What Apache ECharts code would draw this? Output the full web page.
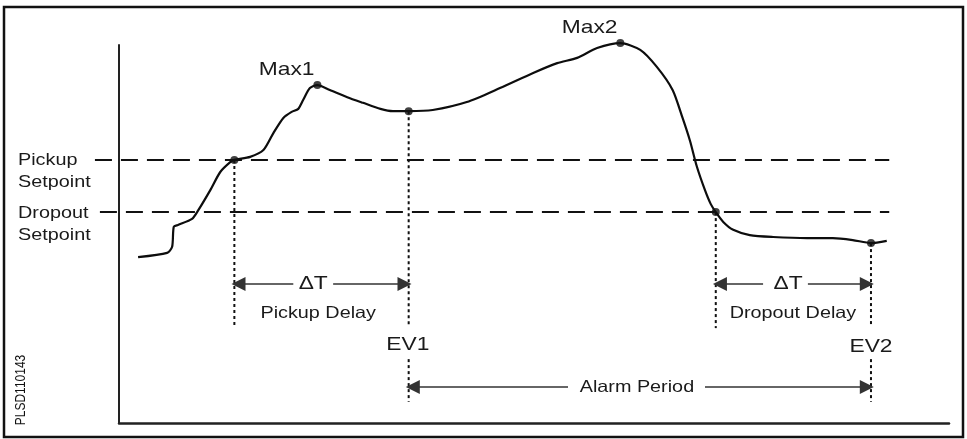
<!DOCTYPE html>
<html><head><meta charset="utf-8">
<script src="https://cdn.jsdelivr.net/npm/echarts@6/dist/echarts.min.js"></script>
<style>html,body{margin:0;padding:0;background:#fff}#c{width:967px;height:439px}</style>
</head><body><div id="c"></div>
<script>
// Signal trace (time units 0-100, value units 0-100)
const signalTime  = [2.3, 5.8, 6.4, 6.6, 7.1, 8.8, 9.5, 11.0, 12.2, 13.4, 13.9, 15.8, 17.4, 18.6, 19.8, 20.8, 21.6, 22.2, 23.0, 23.9, 25.4, 27.5, 29.4, 31.5, 33.0, 34.9, 37.8, 41.9, 45.9, 49.9, 52.8, 55.2, 57.6, 60.4, 62.8, 64.8, 66.7, 67.9, 68.8, 69.6, 70.6, 71.3, 71.9, 72.8, 74.0, 76.0, 78.8, 82.9, 86.0, 88.4, 90.6, 92.5];
const signalValue = [43.9, 45.0, 46.6, 51.9, 52.4, 54.0, 56.1, 61.6, 66.4, 69.0, 69.6, 70.4, 72.2, 76.7, 80.7, 82.3, 83.1, 85.5, 88.6, 89.4, 88.1, 86.2, 84.7, 83.1, 82.5, 82.5, 82.8, 84.9, 88.6, 92.6, 95.2, 96.6, 99.2, 100.5, 98.7, 94.2, 88.1, 80.7, 74.6, 68.0, 61.6, 57.9, 55.8, 53.2, 51.1, 49.7, 49.2, 48.9, 48.9, 48.4, 47.6, 48.2];

const setpointNames  = ['Pickup', 'Dropout'];
const setpointValues = [69.6, 55.8];
const setpointStart  = [-2.9, -2.3];
const setpointEnd    = 92.8;

const markerTime  = [13.9, 23.9, 34.9, 60.4, 71.9, 90.6];
const markerValue = [69.6, 89.4, 82.5, 100.5, 55.8, 47.6];

const eventTime     = [13.9, 34.9, 71.9, 90.6];
const eventTop      = [69.6, 82.5, 55.8, 47.6];
const eventBottom   = [25.1, 25.7, 25.1, 25.7];
const alarmEvents   = [34.9, 90.6];
const alarmLineTop  = 16.9;
const alarmLineBot  = 5.6;

// arrows: [fromT, toT, value]
const arrowFrom  = [21.0, 25.8, 77.6, 83.0, 54.1, 70.6];
const arrowTo    = [14.4, 34.4, 72.4, 90.1, 35.4, 90.1];
const arrowValue = [36.8, 36.8, 36.8, 36.8, 9.5, 9.5];

const labelTexts = ['Max1', 'Max2', '\u0394T', '\u0394T', 'Pickup Delay', 'Dropout Delay', 'EV1', 'EV2', 'Alarm Period'];
const labelTime  = [20.2, 56.7, 23.4, 80.6, 24.0, 81.2, 34.8, 90.6, 62.4];
const labelValue = [93.4, 104.5, 36.8, 36.8, 29.1, 29.1, 20.6, 20.1, 9.5];
const labelSize  = [19, 19, 19, 19, 16.5, 16.5, 19, 19, 16.5];

const chart = echarts.init(document.getElementById('c'));
const series = [];
series.push({
  type: 'line', data: signalTime.map((t, i) => [t, signalValue[i]]), smooth: 0.25,
  showSymbol: false, clip: false, lineStyle: { color: '#0d0d0d', width: 2.2 }, z: 5, silent: true
});
series.push({
  type: 'lines', coordinateSystem: 'cartesian2d', clip: false, silent: true, z: 3,
  lineStyle: { color: '#111', width: 2, type: [17, 9], opacity: 1 },
  data: setpointValues.map((v, i) => ({ coords: [[setpointStart[i], v], [setpointEnd, v]] }))
});
eventTime.forEach((t, i) => series.push({
  type: 'line', data: [[t, eventTop[i]], [t, eventBottom[i]]], showSymbol: false, clip: false,
  lineStyle: { color: '#111', width: 2, type: [3, 3] }, z: 2, silent: true
}));
alarmEvents.forEach(t => series.push({
  type: 'line', data: [[t, alarmLineTop], [t, alarmLineBot]], showSymbol: false, clip: false,
  lineStyle: { color: '#111', width: 2, type: [3, 3] }, z: 2, silent: true
}));
series.push({
  type: 'lines', coordinateSystem: 'cartesian2d', symbol: ['none', 'triangle'], symbolSize: 14,
  lineStyle: { color: '#333', width: 1.6, opacity: 1 }, silent: true, z: 4, clip: false,
  data: arrowFrom.map((f, i) => ({ coords: [[f, arrowValue[i]], [arrowTo[i], arrowValue[i]]] }))
});
series.push({
  type: 'scatter', data: markerTime.map((t, i) => [t, markerValue[i]]), symbolSize: 8,
  itemStyle: { color: '#111' }, clip: false, z: 6, silent: true
});

chart.setOption({
  animation: false,
  backgroundColor: '#fff',
  grid: { left: 119, right: 18, top: 45, bottom: 16, containLabel: false, outerBoundsMode: 'none' },
  xAxis: { type: 'value', min: 0, max: 100, axisLine: { show: true, lineStyle: { color: '#222', width: 2.5 } },
           axisTick: { show: false }, axisLabel: { show: false }, splitLine: { show: false } },
  yAxis: { type: 'value', min: 0, max: 100, axisLine: { show: true, lineStyle: { color: '#222', width: 2 } },
           axisTick: { show: false }, axisLabel: { show: false }, splitLine: { show: false } },
  series: series
});

const gfx = [{ type: 'rect', shape: { x: 4, y: 7, width: 959, height: 430 }, style: { fill: 'none', stroke: '#111', lineWidth: 2.5 }, silent: true }];
const txt = (text, x, y, size, align, extra) => Object.assign({
  type: 'text', x: x, y: y, scaleX: 1.2, silent: true,
  style: { text: text, fontFamily: 'Liberation Sans, Arial, sans-serif', fontSize: size, fill: '#1a1a1a', align: align || 'center', verticalAlign: 'middle' }
}, extra || {});
labelTexts.forEach((s, i) => {
  const p = chart.convertToPixel({ gridIndex: 0 }, [labelTime[i], labelValue[i]]);
  gfx.push(txt(s, p[0], p[1], labelSize[i]));
});
setpointNames.forEach((n, i) => {
  const p = chart.convertToPixel({ gridIndex: 0 }, [0, setpointValues[i]]);
  gfx.push(txt(n, 18, p[1] + 1, 16.5, 'left'));
  gfx.push(txt('Setpoint', 18, p[1] + 23, 16.5, 'left'));
});
gfx.push({ type: 'text', x: 21, y: 390, rotation: Math.PI / 2, scaleX: 1, scaleY: 1.2, silent: true,
  style: { text: 'PLSD110143', fontFamily: 'Liberation Sans, Arial, sans-serif', fontSize: 12, fill: '#111', align: 'center', verticalAlign: 'middle' } });
chart.setOption({ graphic: gfx });
</script></body></html>
